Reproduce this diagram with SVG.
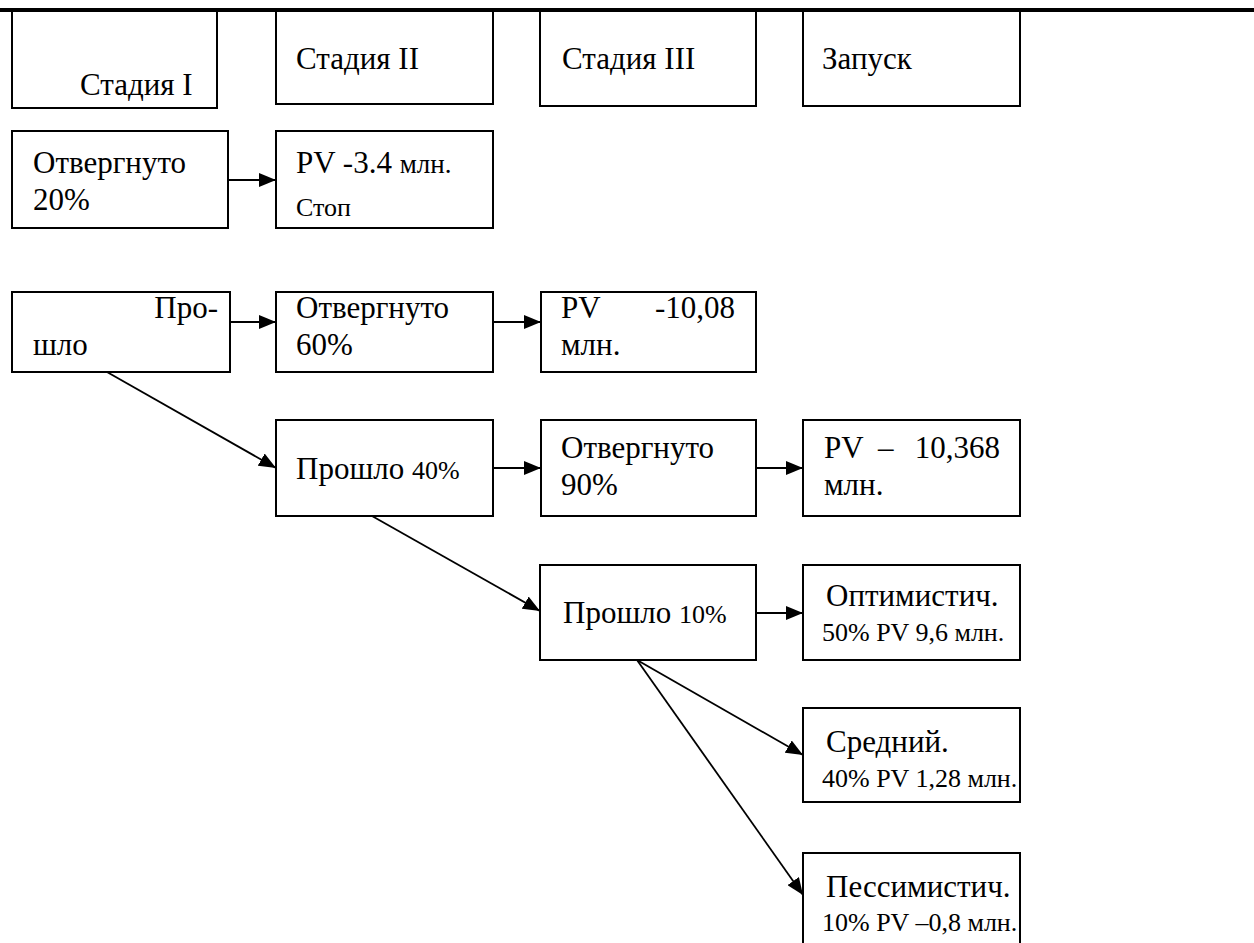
<svg xmlns="http://www.w3.org/2000/svg" width="1254" height="943" viewBox="0 0 1254 943">
<style>
.box{fill:#fff;stroke:#000;stroke-width:2}
.t{font-family:"Liberation Serif","Times New Roman",Tinos,"DejaVu Serif",serif;font-size:31px;fill:#000}
.s{font-size:26px}
.c{stroke:#000;stroke-width:1.8;fill:none;marker-end:url(#ah)}
</style>
<defs>
<marker id="ah" markerUnits="userSpaceOnUse" markerWidth="18" markerHeight="14" refX="17" refY="7" orient="auto">
<path d="M0,0 L17,7 L0,14 z" fill="#000"/>
</marker>
</defs>
<rect width="1254" height="943" fill="#fff"/>
<line x1="0" y1="10" x2="1254" y2="10" stroke="#000" stroke-width="4"/>

<g id="stage1"><path class="box" d="M12,12 V108 H217 V12"/><text class="t" x="80" y="95">Стадия I</text></g>
<g id="stage2"><path class="box" d="M276,12 V104 H493 V12"/><text class="t" x="296" y="69">Стадия II</text></g>
<g id="stage3"><path class="box" d="M540,12 V106 H756 V12"/><text class="t" x="562" y="69">Стадия III</text></g>
<g id="launch"><path class="box" d="M803,12 V106 H1020 V12"/><text class="t" x="822" y="69">Запуск</text></g>

<g id="rej20"><rect class="box" x="12" y="131" width="216" height="97"/><text class="t" x="33" y="173">Отвергнуто</text><text class="t" x="33" y="210">20%</text></g>
<g id="pv34"><rect class="box" x="276" y="131" width="217" height="97"/><text class="t" x="296" y="173">PV -3.4 <tspan style="font-size:27px">млн.</tspan></text><text class="t s" x="296" y="216">Стоп</text></g>

<g id="pass1"><rect class="box" x="12" y="292" width="218" height="80"/><text class="t" x="218" y="318" text-anchor="end">Про-</text><text class="t" x="33" y="355">шло</text></g>
<g id="rej60"><rect class="box" x="276" y="292" width="217" height="80"/><text class="t" x="296" y="318">Отвергнуто</text><text class="t" x="296" y="355">60%</text></g>
<g id="pv1008"><rect class="box" x="541" y="292" width="215" height="80"/><text class="t" x="561" y="318">PV</text><text class="t" x="735" y="318" text-anchor="end">-10,08</text><text class="t" x="561" y="355">млн.</text></g>

<g id="pass40"><rect class="box" x="276" y="420" width="217" height="96"/><text class="t" x="296" y="479">Прошло <tspan class="s">40%</tspan></text></g>
<g id="rej90"><rect class="box" x="541" y="420" width="215" height="96"/><text class="t" x="561" y="458">Отвергнуто</text><text class="t" x="561" y="495">90%</text></g>
<g id="pv10368"><rect class="box" x="803" y="420" width="217" height="96"/><text class="t" x="824" y="458">PV</text><text class="t" x="878" y="458">–</text><text class="t" x="1000" y="458" text-anchor="end">10,368</text><text class="t" x="824" y="495">млн.</text></g>

<g id="pass10"><rect class="box" x="540" y="565" width="216" height="95"/><text class="t" x="563" y="623">Прошло <tspan class="s">10%</tspan></text></g>
<g id="opt"><rect class="box" x="803" y="565" width="217" height="95"/><text class="t" x="826" y="606">Оптимистич.</text><text class="t s" x="822" y="641">50% PV 9,6 млн.</text></g>
<g id="mid"><rect class="box" x="803" y="708" width="217" height="94"/><text class="t" x="826" y="752">Средний.</text><text class="t s" x="822" y="787">40% PV 1,28 млн.</text></g>
<g id="pess"><path class="box" d="M803,950 V853 H1020 V950"/><text class="t" x="826" y="897">Пессимистич.</text><text class="t s" x="822" y="931">10% PV –0,8 млн.</text></g>

<g id="connectors">
<line class="c" x1="228" y1="180" x2="276" y2="180"/>
<line class="c" x1="230" y1="322" x2="276" y2="322"/>
<line class="c" x1="493" y1="322" x2="541" y2="322"/>
<line class="c" x1="107" y1="372" x2="276" y2="468"/>
<line class="c" x1="493" y1="468" x2="541" y2="468"/>
<line class="c" x1="756" y1="468" x2="803" y2="468"/>
<line class="c" x1="372" y1="516" x2="540" y2="611"/>
<line class="c" x1="756" y1="613" x2="803" y2="613"/>
<line class="c" x1="637" y1="660" x2="803" y2="755"/>
<line class="c" x1="637" y1="660" x2="803" y2="895"/>
</g>
</svg>
